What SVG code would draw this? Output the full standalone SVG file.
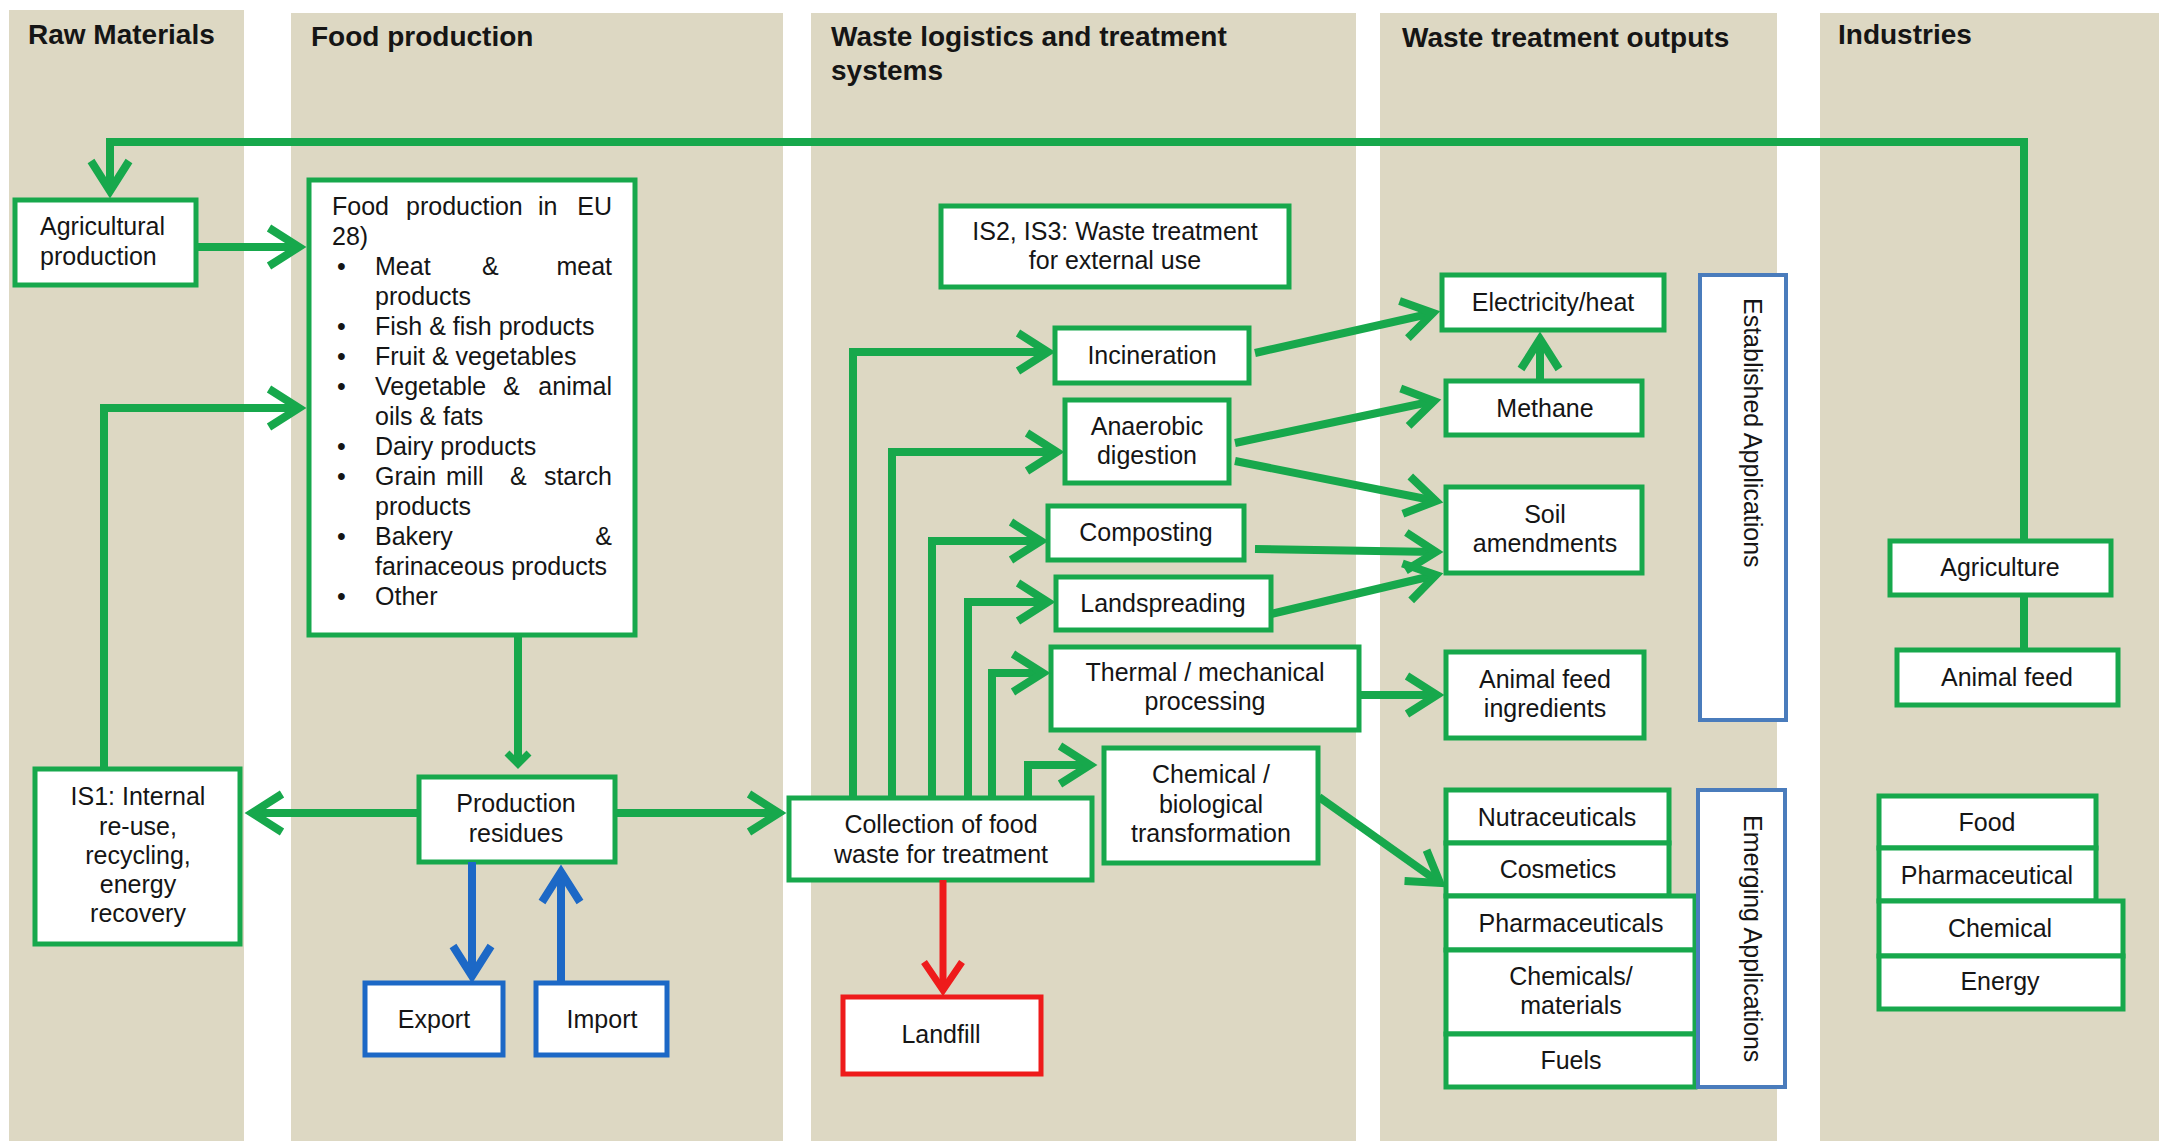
<svg xmlns="http://www.w3.org/2000/svg" width="2159" height="1141" viewBox="0 0 2159 1141">
  <defs>
    <style>
      .band{fill:#ddd8c3}
      .title{font-family:"Liberation Sans",Arial,sans-serif;font-weight:bold;font-size:28px;fill:#151515}
      .t{font-family:"Liberation Sans",Arial,sans-serif;font-size:25px;fill:#151515}
      .c{text-anchor:middle}
      .e{text-anchor:end}
      .box{fill:#fff;stroke:#17a84c;stroke-width:5}
      .bbox{fill:#fff;stroke:#1c68c6;stroke-width:5}
      .rbox{fill:#fff;stroke:#ee1b1b;stroke-width:5}
      .abox{fill:#fff;stroke:#4a7cbc;stroke-width:4}
      .g{fill:none;stroke:#17a84c;stroke-width:8;marker-end:url(#mg)}
      .gs{fill:none;stroke:#17a84c;stroke-width:8;marker-end:url(#mgs)}
      .gn{fill:none;stroke:#17a84c;stroke-width:8}
      .b{fill:none;stroke:#1c68c6;stroke-width:8;marker-end:url(#mb)}
      .r{fill:none;stroke:#ee1b1b;stroke-width:7;marker-end:url(#mr)}
    </style>
    <marker id="mg" markerUnits="userSpaceOnUse" viewBox="-40 -25 50 50" markerWidth="50" markerHeight="50" refX="0" refY="0" orient="auto" overflow="visible">
      <path d="M-30,-19 L0,0 L-30,19" fill="none" stroke="#17a84c" stroke-width="8"/>
    </marker>
    <marker id="mgs" markerUnits="userSpaceOnUse" viewBox="-20 -15 30 30" markerWidth="30" markerHeight="30" refX="0" refY="0" orient="auto" overflow="visible">
      <path d="M-11,-11 L0,0 L-11,11" fill="none" stroke="#17a84c" stroke-width="7"/>
    </marker>
    <marker id="mb" markerUnits="userSpaceOnUse" viewBox="-40 -25 50 50" markerWidth="50" markerHeight="50" refX="0" refY="0" orient="auto" overflow="visible">
      <path d="M-30,-19 L0,0 L-30,19" fill="none" stroke="#1c68c6" stroke-width="8"/>
    </marker>
    <marker id="mr" markerUnits="userSpaceOnUse" viewBox="-40 -25 50 50" markerWidth="50" markerHeight="50" refX="0" refY="0" orient="auto" overflow="visible">
      <path d="M-28,-19 L0,0 L-28,19" fill="none" stroke="#ee1b1b" stroke-width="7"/>
    </marker>
  </defs>

  <rect width="2159" height="1141" fill="#ffffff"/>

  <!-- column bands -->
  <g id="columns">
    <rect class="band" x="9" y="10" width="235" height="1131"/>
    <rect class="band" x="291" y="13" width="492" height="1128"/>
    <rect class="band" x="811" y="13" width="545" height="1128"/>
    <rect class="band" x="1380" y="13" width="397" height="1128"/>
    <rect class="band" x="1820" y="13" width="339" height="1128"/>
    <text class="title" x="28" y="44">Raw Materials</text>
    <text class="title" x="311" y="46">Food production</text>
    <text class="title" x="831" y="46">Waste logistics and treatment</text>
    <text class="title" x="831" y="80">systems</text>
    <text class="title" x="1402" y="47">Waste treatment outputs</text>
    <text class="title" x="1838" y="44">Industries</text>
  </g>

  <!-- raw materials -->
  <g id="agricultural-production">
    <rect class="box" x="15" y="200" width="181" height="85"/>
    <text class="t" x="40" y="235">Agricultural</text>
    <text class="t" x="40" y="265">production</text>
  </g>
  <g id="is1">
    <rect class="box" x="35" y="769" width="205" height="175"/>
    <text class="t c" x="138" y="805">IS1: Internal</text>
    <text class="t c" x="138" y="835">re-use,</text>
    <text class="t c" x="138" y="864">recycling,</text>
    <text class="t c" x="138" y="893">energy</text>
    <text class="t c" x="138" y="922">recovery</text>
  </g>

  <!-- food production -->
  <g id="food-production">
    <rect class="box" x="309" y="180" width="326" height="455"/>
    <text class="t" x="332" y="215">Food</text>
    <text class="t" x="406" y="215">production</text>
    <text class="t" x="538" y="215">in</text>
    <text class="t e" x="612" y="215">EU</text>
    <text class="t" x="332" y="245">28)</text>
    <text class="t" x="337" y="275">•</text>
    <text class="t" x="375" y="275">Meat</text>
    <text class="t" x="482" y="275">&amp;</text>
    <text class="t e" x="612" y="275">meat</text>
    <text class="t" x="375" y="305">products</text>
    <text class="t" x="337" y="335">•</text>
    <text class="t" x="375" y="335">Fish &amp; fish products</text>
    <text class="t" x="337" y="365">•</text>
    <text class="t" x="375" y="365">Fruit &amp; vegetables</text>
    <text class="t" x="337" y="395">•</text>
    <text class="t" x="375" y="395">Vegetable</text>
    <text class="t" x="503" y="395">&amp;</text>
    <text class="t e" x="612" y="395">animal</text>
    <text class="t" x="375" y="425">oils &amp; fats</text>
    <text class="t" x="337" y="455">•</text>
    <text class="t" x="375" y="455">Dairy products</text>
    <text class="t" x="337" y="485">•</text>
    <text class="t" x="375" y="485">Grain</text>
    <text class="t" x="446" y="485">mill</text>
    <text class="t" x="510" y="485">&amp;</text>
    <text class="t e" x="612" y="485">starch</text>
    <text class="t" x="375" y="515">products</text>
    <text class="t" x="337" y="545">•</text>
    <text class="t" x="375" y="545">Bakery</text>
    <text class="t e" x="612" y="545">&amp;</text>
    <text class="t" x="375" y="575">farinaceous products</text>
    <text class="t" x="337" y="605">•</text>
    <text class="t" x="375" y="605">Other</text>
  </g>
  <g id="production-residues">
    <rect class="box" x="419" y="777" width="196" height="85"/>
    <text class="t c" x="516" y="812">Production</text>
    <text class="t c" x="516" y="842">residues</text>
  </g>
  <g id="export">
    <rect class="bbox" x="365" y="983" width="138" height="72"/>
    <text class="t c" x="434" y="1028">Export</text>
  </g>
  <g id="import">
    <rect class="bbox" x="536" y="983" width="131" height="72"/>
    <text class="t c" x="602" y="1028">Import</text>
  </g>

  <!-- waste logistics and treatment -->
  <g id="is2-is3">
    <rect class="box" x="941" y="206" width="348" height="81"/>
    <text class="t c" x="1115" y="240">IS2, IS3: Waste treatment</text>
    <text class="t c" x="1115" y="269">for external use</text>
  </g>
  <g id="incineration">
    <rect class="box" x="1055" y="328" width="194" height="55"/>
    <text class="t c" x="1152" y="364">Incineration</text>
  </g>
  <g id="anaerobic-digestion">
    <rect class="box" x="1065" y="400" width="164" height="83"/>
    <text class="t c" x="1147" y="435">Anaerobic</text>
    <text class="t c" x="1147" y="464">digestion</text>
  </g>
  <g id="composting">
    <rect class="box" x="1048" y="506" width="196" height="54"/>
    <text class="t c" x="1146" y="541">Composting</text>
  </g>
  <g id="landspreading">
    <rect class="box" x="1056" y="577" width="215" height="53"/>
    <text class="t c" x="1163" y="612">Landspreading</text>
  </g>
  <g id="thermal-mechanical">
    <rect class="box" x="1051" y="647" width="308" height="83"/>
    <text class="t c" x="1205" y="681">Thermal / mechanical</text>
    <text class="t c" x="1205" y="710">processing</text>
  </g>
  <g id="chemical-biological">
    <rect class="box" x="1104" y="748" width="214" height="115"/>
    <text class="t c" x="1211" y="783">Chemical /</text>
    <text class="t c" x="1211" y="813">biological</text>
    <text class="t c" x="1211" y="842">transformation</text>
  </g>
  <g id="collection">
    <rect class="box" x="789" y="798" width="303" height="82"/>
    <text class="t c" x="941" y="833">Collection of food</text>
    <text class="t c" x="941" y="863">waste for treatment</text>
  </g>
  <g id="landfill">
    <rect class="rbox" x="843" y="997" width="198" height="77"/>
    <text class="t c" x="941" y="1043">Landfill</text>
  </g>

  <!-- waste treatment outputs -->
  <g id="electricity-heat">
    <rect class="box" x="1442" y="275" width="222" height="55"/>
    <text class="t c" x="1553" y="311">Electricity/heat</text>
  </g>
  <g id="methane">
    <rect class="box" x="1446" y="381" width="196" height="54"/>
    <text class="t c" x="1545" y="417">Methane</text>
  </g>
  <g id="soil-amendments">
    <rect class="box" x="1446" y="487" width="196" height="86"/>
    <text class="t c" x="1545" y="523">Soil</text>
    <text class="t c" x="1545" y="552">amendments</text>
  </g>
  <g id="animal-feed-ingredients">
    <rect class="box" x="1446" y="652" width="198" height="86"/>
    <text class="t c" x="1545" y="688">Animal feed</text>
    <text class="t c" x="1545" y="717">ingredients</text>
  </g>
  <g id="established-applications">
    <rect class="abox" x="1700" y="275" width="86" height="445"/>
    <text class="t" transform="translate(1753,298) rotate(90)" dominant-baseline="central">Established Applications</text>
  </g>
  <g id="emerging-outputs">
    <rect class="box" x="1446" y="790" width="223" height="53"/>
    <text class="t c" x="1557" y="826">Nutraceuticals</text>
    <rect class="box" x="1446" y="843" width="223" height="53"/>
    <text class="t c" x="1558" y="878">Cosmetics</text>
    <rect class="box" x="1446" y="896" width="249" height="54"/>
    <text class="t c" x="1571" y="932">Pharmaceuticals</text>
    <rect class="box" x="1446" y="950" width="249" height="84"/>
    <text class="t c" x="1571" y="985">Chemicals/</text>
    <text class="t c" x="1571" y="1014">materials</text>
    <rect class="box" x="1446" y="1034" width="249" height="53"/>
    <text class="t c" x="1571" y="1069">Fuels</text>
  </g>
  <g id="emerging-applications">
    <rect class="abox" x="1698" y="790" width="87" height="297"/>
    <text class="t" transform="translate(1753,815) rotate(90)" dominant-baseline="central">Emerging Applications</text>
  </g>

  <!-- industries -->
  <g id="agriculture">
    <rect class="box" x="1890" y="541" width="221" height="54"/>
    <text class="t c" x="2000" y="576">Agriculture</text>
  </g>
  <g id="animal-feed">
    <rect class="box" x="1897" y="650" width="221" height="55"/>
    <text class="t c" x="2007" y="686">Animal feed</text>
  </g>
  <g id="industry-list">
    <rect class="box" x="1879" y="796" width="217" height="52"/>
    <text class="t c" x="1987" y="831">Food</text>
    <rect class="box" x="1879" y="848" width="217" height="53"/>
    <text class="t c" x="1987" y="884">Pharmaceutical</text>
    <rect class="box" x="1879" y="901" width="244" height="55"/>
    <text class="t c" x="2000" y="937">Chemical</text>
    <rect class="box" x="1879" y="956" width="244" height="53"/>
    <text class="t c" x="2000" y="990">Energy</text>
  </g>

  <!-- connectors -->
  <g id="connectors">
    <path class="g" d="M2024,541 V142 H110 V191"/>
    <path class="gn" d="M2024,595 V650"/>
    <path class="g" d="M196,247 H299"/>
    <path class="g" d="M104,769 V408 H299"/>
    <path class="gs" d="M518,636 V764"/>
    <path class="g" d="M419,813 H252"/>
    <path class="g" d="M615,813 H779"/>
    <path class="b" d="M472,862 V976"/>
    <path class="b" d="M561,983 V872"/>
    <path class="r" d="M943,880 V990"/>
    <path class="g" d="M853,798 V352 H1048"/>
    <path class="g" d="M892,798 V452 H1057"/>
    <path class="g" d="M932,798 V541 H1041"/>
    <path class="g" d="M968,798 V602 H1048"/>
    <path class="g" d="M992,798 V673 H1043"/>
    <path class="g" d="M1028,798 V765 H1090"/>
    <path class="g" d="M1255,353 L1433,313"/>
    <path class="g" d="M1235,443 L1434,401"/>
    <path class="g" d="M1235,461 L1436,501"/>
    <path class="g" d="M1255,549 L1436,552"/>
    <path class="g" d="M1271,614 L1436,575"/>
    <path class="g" d="M1359,695 H1437"/>
    <path class="g" d="M1319,797 L1440,883"/>
    <path class="g" d="M1540,381 V339"/>
  </g>
</svg>
